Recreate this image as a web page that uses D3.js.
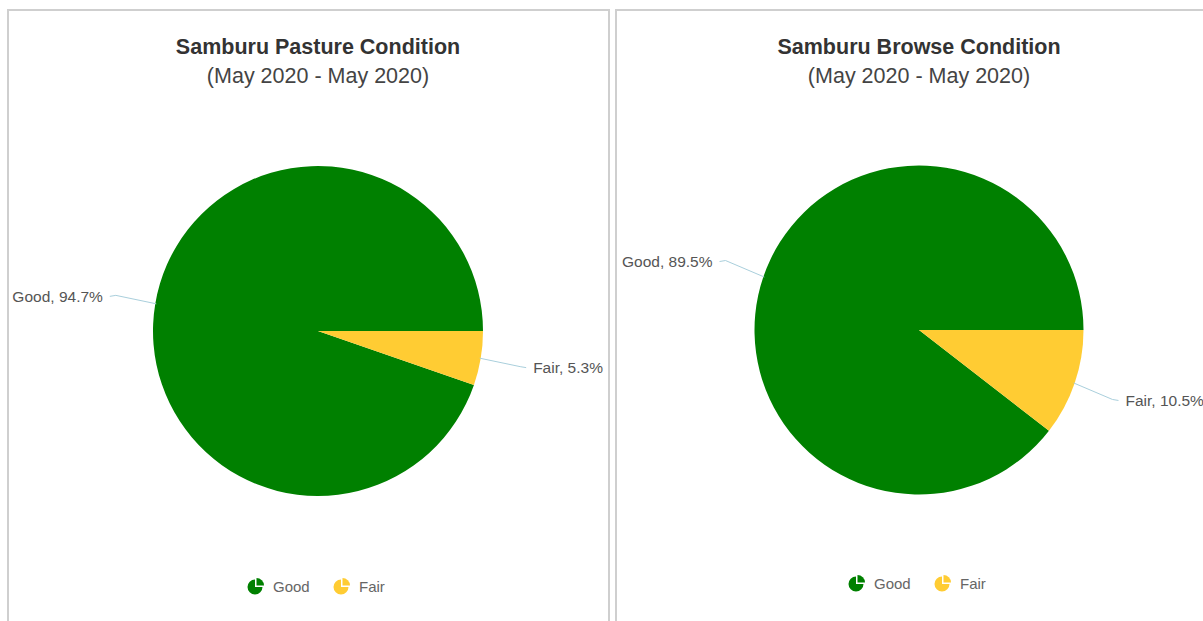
<!DOCTYPE html>
<html>
<head>
<meta charset="utf-8">
<script src="https://cdn.jsdelivr.net/npm/d3@7"></script>
<style>
  html, body { margin: 0; padding: 0; background: #fff; }
  svg { display: block; font-family: "Liberation Sans", Arial, Helvetica, sans-serif; }
</style>
</head>
<body>
<svg id="chart" width="1203" height="621"></svg>
<script>
// Condition categories and their shares (percent)
const categories = ["Good", "Fair"];
const pastureValues = [94.7, 5.3];
const browseValues = [89.5, 10.5];
const chartTitles = ["Samburu Pasture Condition", "Samburu Browse Condition"];
const dateRange = "(May 2020 - May 2020)";

const color = d3.scaleOrdinal().domain(categories).range(["#008000", "#ffcc33"]);

const svg = d3.select("#chart");

// Panel layout (pixel geometry only)
const panels = [
  { x: 8, w: 601, cx: 318, cy: 331, r: 165, titleX: 318, legendY: 587, values: pastureValues, title: chartTitles[0] },
  { x: 616, w: 620, cx: 919, cy: 330, r: 164.5, titleX: 919, legendY: 584, values: browseValues, title: chartTitles[1] }
];

panels.forEach(p => {
  const g = svg.append("g");

  // panel frame
  g.append("rect")
    .attr("x", p.x).attr("y", 10)
    .attr("width", p.w).attr("height", 640)
    .attr("fill", "none")
    .attr("stroke", "#cfcfcf")
    .attr("stroke-width", 2);

  // titles
  g.append("text")
    .attr("x", p.titleX).attr("y", 54)
    .attr("text-anchor", "middle")
    .attr("font-size", 21.5).attr("font-weight", "bold")
    .attr("fill", "#333")
    .text(p.title);
  g.append("text")
    .attr("x", p.titleX).attr("y", 83)
    .attr("text-anchor", "middle")
    .attr("font-size", 21.5)
    .attr("fill", "#444")
    .text(dateRange);

  const data = categories.map((c, i) => ({ name: c, value: p.values[i] }));

  // slices run counter-clockwise from 3 o'clock
  const pie = d3.pie().sort(null).value(d => d.value)
    .startAngle(Math.PI / 2).endAngle(Math.PI / 2 - 2 * Math.PI);
  const arcs = pie(data);
  const arc = d3.arc().innerRadius(0).outerRadius(p.r);

  const pg = g.append("g").attr("transform", `translate(${p.cx},${p.cy})`);
  pg.selectAll("path.slice").data(arcs).join("path")
    .attr("class", "slice")
    .attr("d", arc)
    .attr("fill", d => color(d.data.name));

  // data labels with connectors
  arcs.forEach(a => {
    const mid = (a.startAngle + a.endAngle) / 2;
    const sx = Math.sin(mid), sy = -Math.cos(mid);
    const right = sx > 0;
    const p0 = [sx * (p.r - 1), sy * (p.r - 1)];
    const p1 = [sx * (p.r + 40), sy * (p.r + 50)];
    const p2 = [p1[0] + (right ? 6 : -6), p1[1] + 1];
    pg.append("path")
      .attr("d", d3.line()([p0, p1, p2]))
      .attr("fill", "none")
      .attr("stroke", "#a9cfdc")
      .attr("stroke-width", 1);
    pg.append("text")
      .attr("x", p2[0] + (right ? 7 : -7))
      .attr("y", p2[1])
      .attr("dy", "0.35em")
      .attr("text-anchor", right ? "start" : "end")
      .attr("font-size", 15.5)
      .attr("fill", "#555")
      .text(`${a.data.name}, ${a.data.value}%`);
  });

  // legend
  const legendItems = [
    { name: categories[0], x: p.titleX - 63 },
    { name: categories[1], x: p.titleX + 23 }
  ];
  const iconArc = d3.arc().innerRadius(0).outerRadius(7.5);
  legendItems.forEach(item => {
    const lg = g.append("g").attr("transform", `translate(${item.x},${p.legendY})`);
    lg.append("path")
      .attr("d", iconArc({ startAngle: Math.PI / 2, endAngle: 2 * Math.PI }))
      .attr("fill", color(item.name));
    lg.append("path")
      .attr("transform", "translate(1.5,-1.5)")
      .attr("d", iconArc({ startAngle: 0, endAngle: Math.PI / 2 }))
      .attr("fill", color(item.name));
    lg.append("text")
      .attr("x", 18).attr("y", 0).attr("dy", "0.35em")
      .attr("font-size", 15)
      .attr("fill", "#666")
      .text(item.name);
  });
});
</script>
</body>
</html>
